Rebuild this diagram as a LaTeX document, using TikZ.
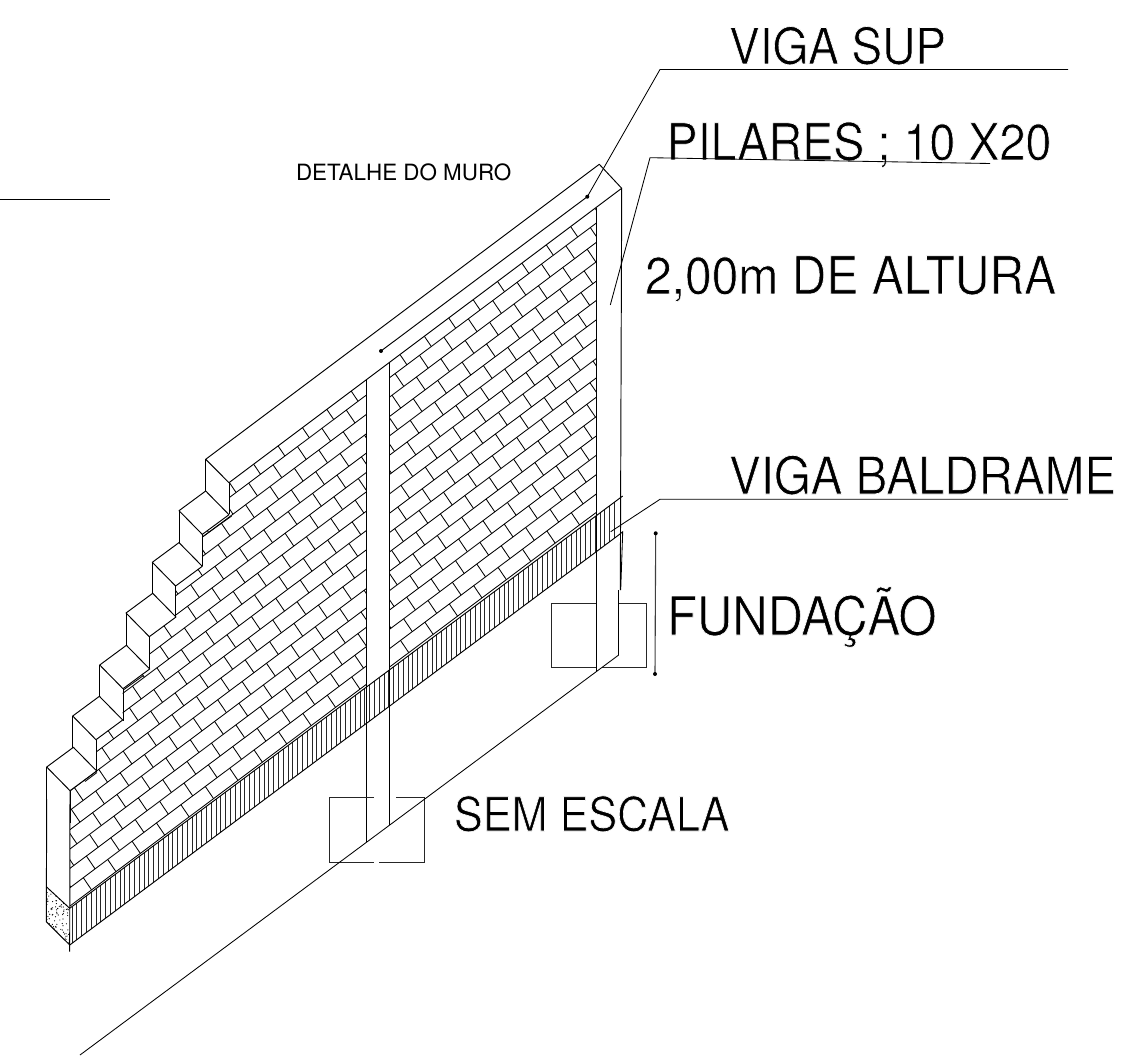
\documentclass[tikz,border=0pt]{standalone}
\usepackage{graphicx}
\usepackage{fontspec}
\setmainfont{TeX Gyre Heros}
\newcommand{\lblsize}[1]{\fontsize{#1}{#1}\selectfont}
\newcommand{\thintxt}[1]{\scalebox{1}[1.09]{\special{pdf:code q 2 Tr 0.6 w 1 1 1 RG}#1\special{pdf:code Q}}}
\tikzset{
  ln/.style={line width=0.95pt,black},
  thinln/.style={line width=0.85pt,black},
  hatchln/.style={line width=0.85pt,black!85},
  lbl/.style={anchor=base west,inner sep=0pt,outer sep=0pt,text=black},
  boxln/.style={line width=1pt,black!85}
}
\begin{document}
\begin{tikzpicture}[x=1pt,y=-1pt]
\useasboundingbox (0,0) rectangle (1145,1056);
% labels
\node[lbl,font=\lblsize{46}] (t1) at (729,64) {\thintxt{VIGA SUP}};
\node[lbl,font=\lblsize{46.7}] (t2) at (666.5,160) {\thintxt{PILARES ; 10 X20}};
\node[lbl,font=\lblsize{48}] (t3) at (645,294) {\thintxt{2,00m DE ALTURA}};
\node[lbl,font=\lblsize{47.5}] (t4) at (729,494) {\thintxt{VIGA BALDRAME}};
\node[lbl,font=\lblsize{49}] (t5) at (667,635) {\thintxt{FUNDAÇÃO}};
\node[lbl,font=\lblsize{43.2}] (t6) at (454,831) {\thintxt{SEM ESCALA}};
\node[lbl,font=\lblsize{22.4}] (t7) at (296,181) {DETALHE DO MURO};
% brick field
\begin{scope}
\clip (70,906) -- (596,512.6) -- (596,208) -- (229,482.7) -- (229,514.3) -- (202.3,534.3) -- (202.3,565.7) -- (175.7,585) -- (175.7,616.7) -- (149.3,636.7) -- (149.3,668.7) -- (122.7,688) -- (122.7,720) -- (96,739) -- (96,771) -- (70,791) -- cycle;
\foreach \k in {1,...,16}{
  \draw[thinln] (60,{907+7.48-19.35*\k}) -- (610,{907-0.748*540-19.35*\k});
}
\foreach \k in {0,...,15}{
  \foreach \n in {-2,...,22}{
    \pgfmathsetmacro{\xa}{83.3+mod(3.1*\k,24.4)+24.4*\n}
    \pgfmathsetmacro{\ya}{907-0.748*(\xa-70)-19.35*(\k+1)}
    \draw[thinln] (\xa,\ya) -- ({\xa+8.7},{\ya+12.84});
  }
}
\end{scope}
% doubled edges under some steps
\draw[thinln] (203.3,536.3) -- (231.7,516);
\draw[thinln] (123.3,690) -- (143.3,675.6);
\draw[thinln] (85,781.5) -- (97,772.5);
% middle pillar blanks the bricks
\fill[white] (366.3,380) -- (389.3,362) -- (389.3,670) -- (366.3,687) -- cycle;
% foundation beam hatch
\foreach \hx in {72,76.8,...,618}{
  \pgfmathsetmacro{\ya}{908.3-0.7456*(\hx-69.7)}
  \pgfmathsetmacro{\yb}{945-0.747*(\hx-69.7)}
  \draw[hatchln] (\hx,\ya) -- (\hx,\yb);
}
\draw[thinln] (70,906) -- (366.3,684.4);
\draw[thinln] (389.3,667.2) -- (596,512.6);
\draw[ln] (69.7,908.3) -- (622.7,496);
\draw[ln] (69.7,945) -- (620,534);
% stepped blocks
\foreach \px/\py in {46.7/767,72.7/716,99.7/665,126/613,152.3/562.3,179/510.7}{
  \draw[ln,line join=round] (\px,\py) -- ++(23.3,23.7) -- ++(26.7,-19.7) -- ++(-23.3,-23.7) -- cycle;
  \draw[ln] (\px,\py) -- ++(0,32);
  \draw[ln] ({\px+23.3},{\py+23.7}) -- ++(0,32);
}
% top beam
\coordinate (bk1) at (205.7,459.3);
\coordinate (bk2) at (599.3,164.3);
\coordinate (fr1) at (229,482.7);
\coordinate (fr2) at (621.7,188.3);
\draw[ln,line join=round] (bk1) -- (bk2) -- (fr2) -- (fr1) -- cycle;
\draw[ln] (bk1) -- (205.7,491.3);
\draw[ln] (fr1) -- (229,514.3);
\coordinate (dota) at (381,351);
\coordinate (dotb) at (587.3,196.7);
\draw[ln] (dota) -- (dotb);
\fill (dota) circle (2);
\fill (dotb) circle (2);
% left end post
\draw[ln] (46.7,799) -- (46.3,921.7) -- (69.7,945) -- (69.7,951.7);
\draw[ln] (70,791) -- (69.7,945);
\draw[ln] (46.3,886.7) -- (69.7,908.3);
\begin{scope}
\clip (46.3,886.7) -- (69.7,908.3) -- (69.7,945) -- (46.3,921.7) -- cycle;
\pgfmathsetseed{7}
\foreach \i in {1,...,150}{
  \pgfmathsetmacro{\sx}{46+24*rnd}
  \pgfmathsetmacro{\sy}{886+60*rnd}
  \fill[black] (\sx,\sy) circle (0.6);
}
\end{scope}
% middle pillar
\draw[ln] (366.3,380) -- (366.3,842.4);
\draw[ln] (389.3,362) -- (389.3,825);
\draw[boxln] (374,797.7) -- (329,797.7) -- (329,862.3) -- (374,862.3);
\draw[boxln] (396,797.7) -- (424.3,797.7) -- (424.3,862.3) -- (379,862.3);
% right pillar
\draw[ln] (596,208) -- (596,671.7);
\draw[ln] (621.7,188.3) -- (620.3,590);
\draw[thinln] (620,534) -- (622.7,531.7) -- (620.7,590);
\draw[ln] (618.7,590) -- (618.7,655);
\draw[boxln] (596,603.3) -- (551.3,603.3) -- (551.3,667.3) -- (596,667.3);
\draw[boxln] (618.7,603.3) -- (646.7,603.3) -- (646.7,667.3) -- (601.7,667.3);
% long ground line
\coordinate (gnda) at (80,1055);
\coordinate (gndb) at (618.7,655);
\draw[thinln] (gnda) -- (gndb);
% dimension line
\coordinate (dima) at (655.7,533.3);
\coordinate (dimb) at (655,674);
\draw[line width=1.1pt,black!75] (dima) -- (dimb);
\fill (dima) circle (2);
\fill (dimb) circle (2);
% leaders
\coordinate (sa) at (660,69.5);
\coordinate (sb) at (1068,69.5);
\draw[thinln] (dotb) -- (sa) -- (sb);
\coordinate (pa) at (610.3,305);
\coordinate (pb) at (650,157.7);
\coordinate (pc) at (990,163.5);
\draw[thinln] (pa) -- (pb) -- (pc);
\coordinate (ba) at (610.7,531.7);
\coordinate (bb) at (660,499.3);
\coordinate (bc) at (1068,499.3);
\draw[thinln] (ba) -- (bb) -- (bc);
\coordinate (ra) at (0,199);
\coordinate (rb) at (110,199);
\draw[thinln] (ra) -- (rb);
\end{tikzpicture}
\end{document}
